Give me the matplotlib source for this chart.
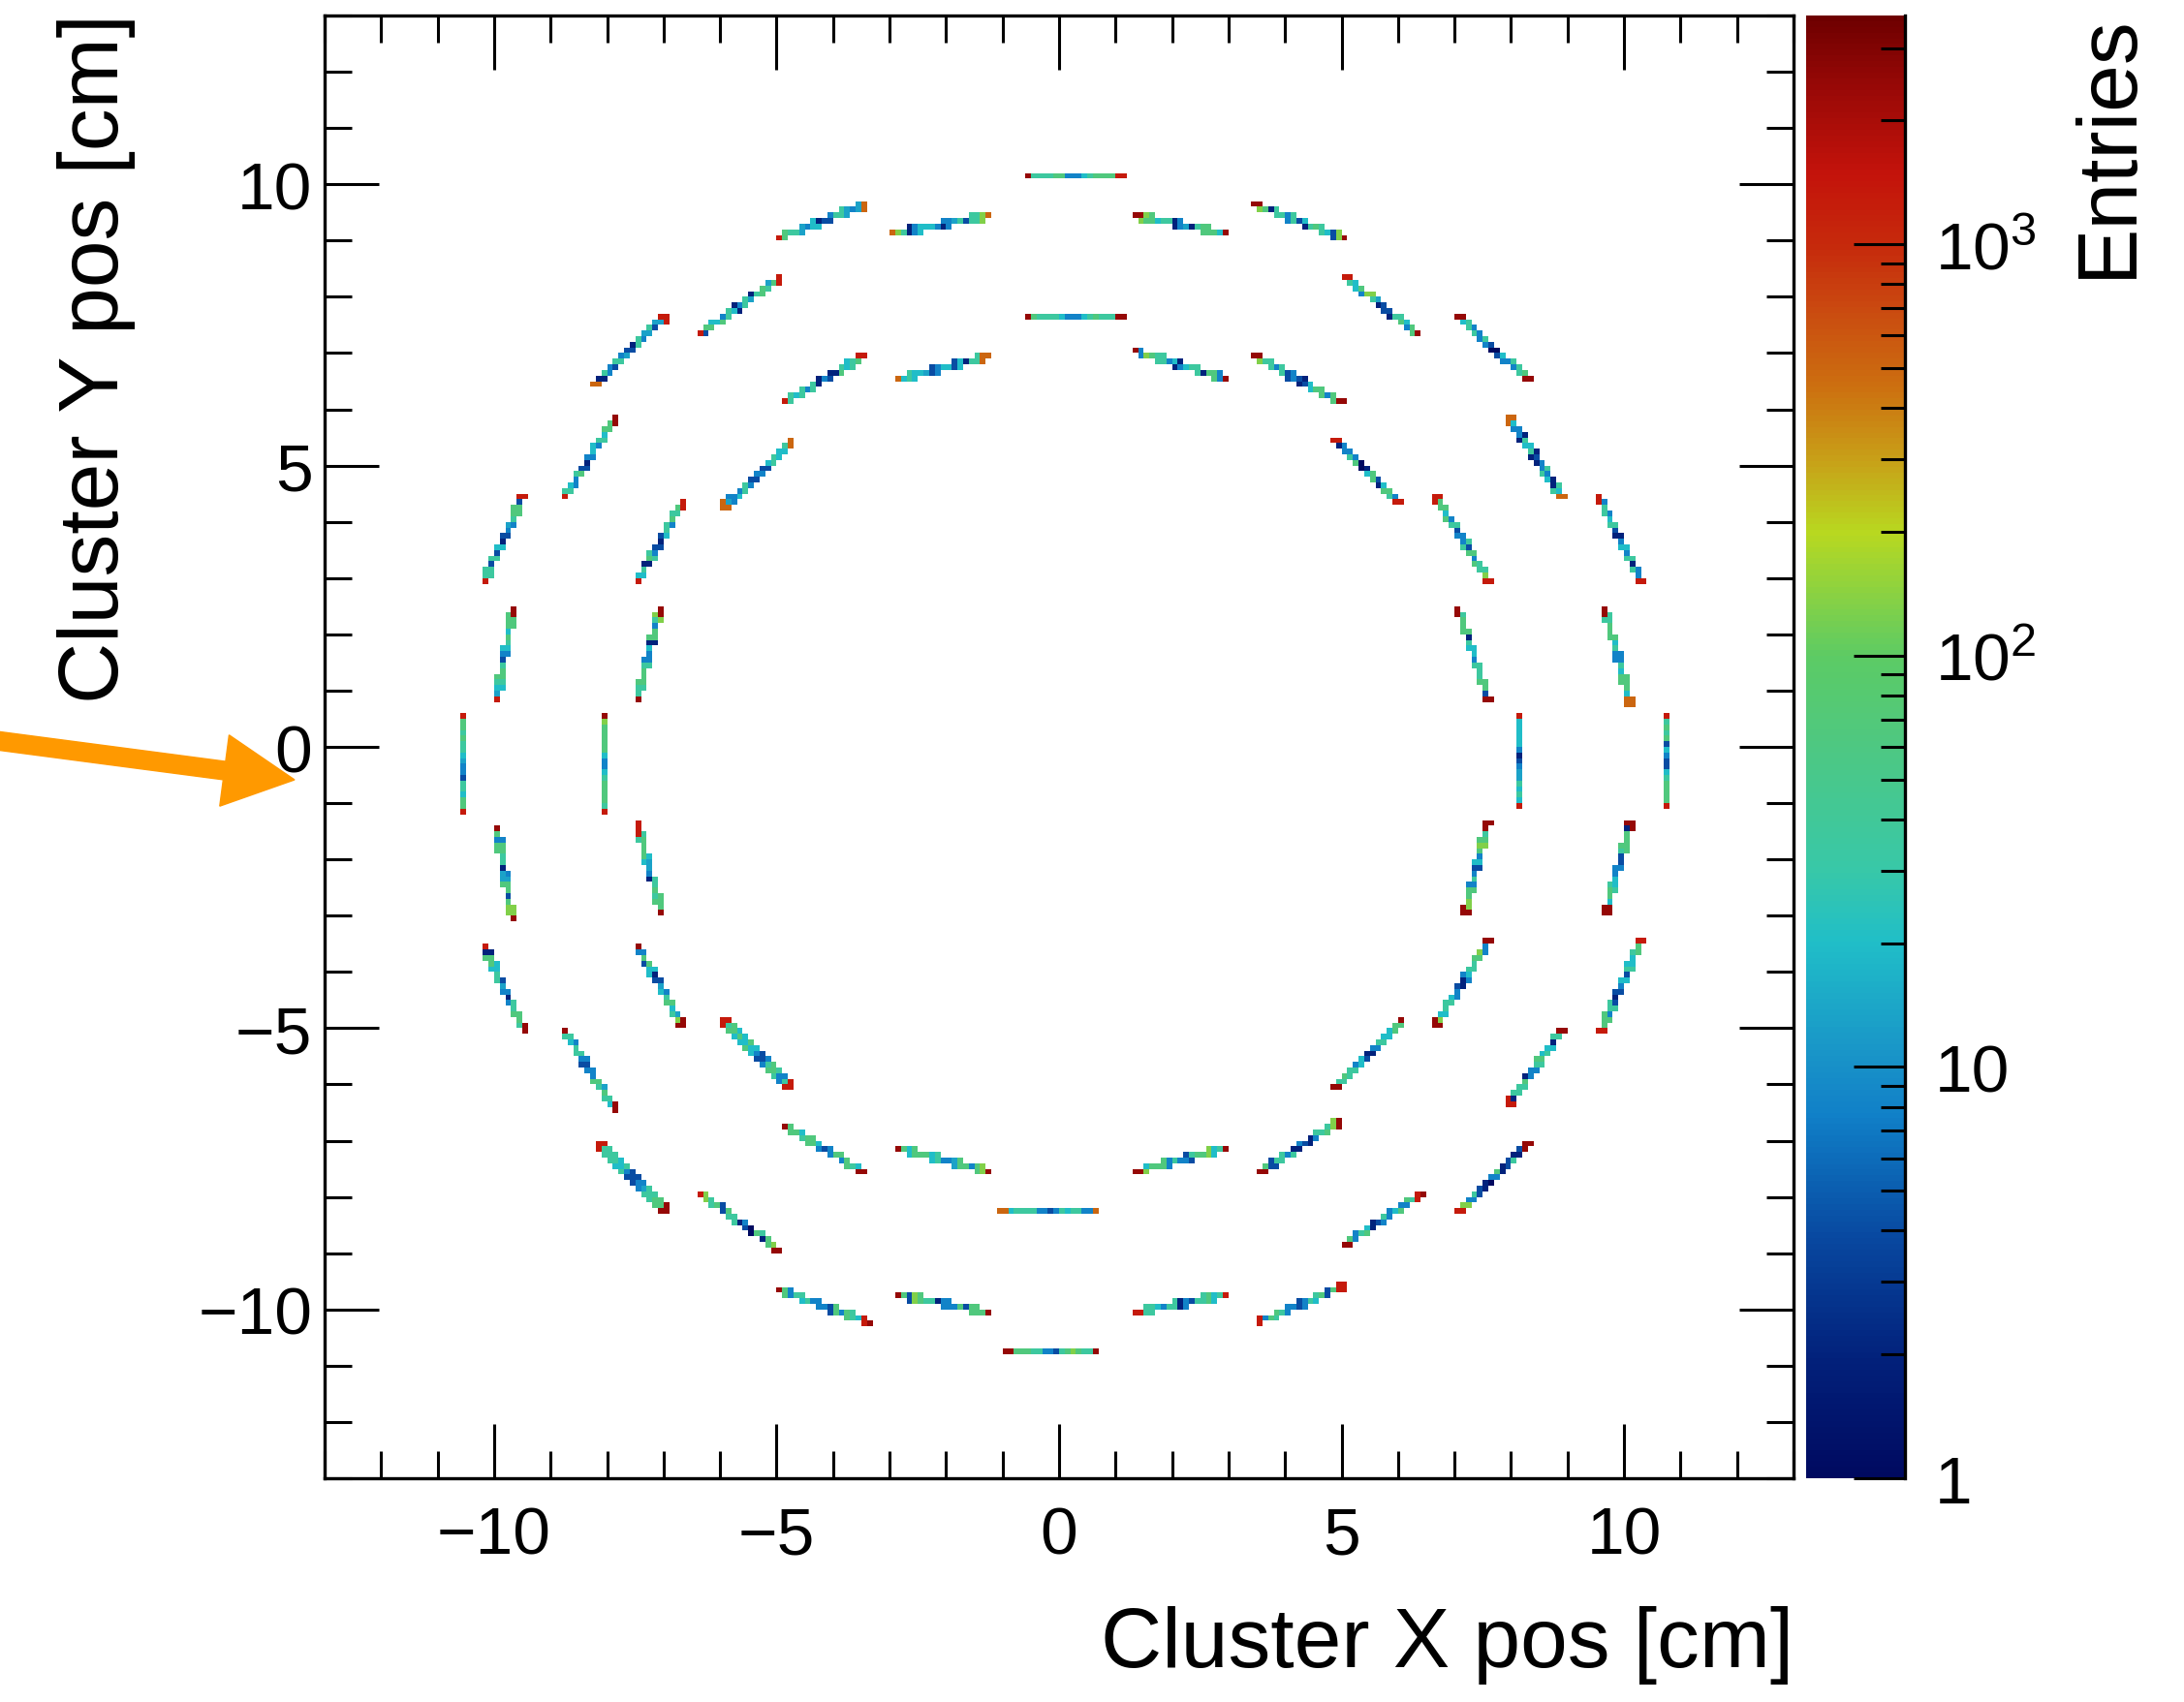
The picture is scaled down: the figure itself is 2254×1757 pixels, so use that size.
import numpy as np
import matplotlib
matplotlib.use("Agg")
import matplotlib.pyplot as plt
from matplotlib.colors import LinearSegmentedColormap, LogNorm
from matplotlib.patches import FancyArrow
from matplotlib.ticker import MultipleLocator, FixedLocator, NullFormatter
from matplotlib.transforms import IdentityTransform

plt.rcParams["font.family"] = ["Liberation Sans", "DejaVu Sans"]

# colour code letters used below -> entries in a bin
code_values = {"k": 1, "n": 2, "d": 4, "b": 8, "c": 13, "a": 20, "t": 35,
               "g": 65, "l": 130, "o": 500, "r": 1300, "R": 2500}

# outer ring ladders: start / end point [cm] and bin contents along the ladder
outer_x0 = [-0.59, 1.36, 3.45, 5.08, 7.07, 7.97, 9.56, 9.67, 10.73, 9.69, 9.60,
            7.97, 7.07, 5.07, 3.49, 1.36, -0.95, -2.86, -4.97, -6.36, -8.17,
            -8.76, -10.17, -9.96, -10.57, -9.95, -10.17, -8.76, -8.19, -6.38,
            -5.00, -2.98]
outer_y0 = [10.13, 9.44, 9.64, 8.34, 7.64, 5.85, 4.45, 2.45, 0.56, -2.94, -5.04,
            -6.34, -8.24, -8.84, -10.24, -10.05, -10.74, -9.74, -9.64, -7.93,
            -7.03, -5.04, -3.54, -1.44, -1.17, 0.85, 2.94, 4.43, 6.43, 7.32,
            9.04, 9.13]
outer_x1 = [1.12, 2.98, 5.08, 6.38, 8.30, 8.91, 10.29, 10.11, 10.73, 10.11, 10.30,
            8.90, 8.30, 6.45, 5.08, 2.98, 0.67, -1.24, -3.34, -4.95, -6.96,
            -7.86, -9.47, -9.67, -10.57, -9.67, -9.49, -7.86, -6.96, -4.93,
            -3.41, -1.21]
outer_y1 = [10.13, 9.13, 9.04, 7.32, 6.54, 4.43, 2.94, 0.77, -1.06, -1.35, -3.45,
            -5.04, -7.04, -7.93, -9.56, -9.74, -10.74, -10.05, -10.24, -8.94,
            -8.24, -6.45, -5.05, -3.06, 0.56, 2.45, 4.44, 5.84, 7.64, 8.34,
            9.64, 9.44]
outer_codes = ["Rttttgbbbatggggr", "RlggattnbcntgggaR", "RlgnttbtdantgtadlR",
               "rtagbltcnddntgabgR", "RatbtbtbdkdabtbtgR", "oabbntatndnbtbantao",
               "rbtbatdnbabtntbr", "Rtgggatbbtagggao", "rtgtgdabdatggggr",
               "RaggtabbbdtgggnR", "rggbtdndbadtaatgr", "rnttgnbbtgatantR",
               "rlbtdnkbgndtndR", "RgbtgandbtbagbgtrR", "rbgtgtbbdbtatgdgrr",
               "rttabttnbdttgatr", "RgggttbbdtglgttR", "RgdlgttnbbbgdgggR",
               "RgbttatbbbdggbgtarR", "rlttgdgttnbdkgtnglR", "rttttatbddbcttggR",
               "RtabttbdbbbgtcgtaR", "rnggaatdcbnbttggtR", "RgbggttncbcggdgllR",
               "rggattdbbcatgtggr", "rcatggtdbatgagggR", "rttdttdandbcbtggdr",
               "rtabtgdnbaabtaggR", "ontbdtbcdntbctdcr", "rdgaagbtanbtcntgtcgr",
               "rgttcbaandbttcbco", "oltnbaaabnbbctdttlo"]

# inner ring ladders
inner_x0 = [-0.59, 1.32, 3.45, 4.86, 6.67, 7.07, 8.17, 7.18, 6.67, 4.88, 3.56,
            1.36, -1.06, -2.86, -4.86, -5.96, -7.46, -7.46, -8.06, -7.46, -7.46,
            -5.96, -4.86, -2.87]
inner_y0 = [7.63, 7.04, 6.94, 5.45, 4.45, 2.45, 0.56, -2.96, -4.95, -6.05, -7.55,
            -7.55, -8.24, -7.13, -6.74, -4.84, -3.54, -1.35, -1.17, 0.84, 2.94,
            4.24, 6.13, 6.54]
inner_x1 = [1.12, 2.98, 5.01, 6.02, 7.61, 7.61, 8.17, 7.60, 7.60, 6.09, 4.99,
            2.98, 0.67, -1.24, -3.45, -4.75, -6.67, -7.04, -8.06, -7.07, -6.67,
            -4.75, -3.45, -1.24]
inner_y1 = [7.63, 6.54, 6.13, 4.33, 2.94, 0.84, -1.06, -1.35, -3.45, -4.84, -6.64,
            -7.13, -8.24, -7.55, -7.55, -6.05, -4.95, -2.96, 0.56, 2.45, 4.34,
            5.44, 6.94, 6.94]
inner_codes = ["RgttttabbbatgtttR", "RblgtttbanbattngggbR", "RlttbttdbdndaggbggR",
               "rnbbtbgknagdnagtbr", "rggagbtdbbtdgbgttlr", "RtgggnttaabtgttggdR",
               "raaaaabndbcctatar", "RlggbtbdabglgtR", "RlattabdnbattglbR",
               "RtgttbadnbbtaaggR", "RgdttbtnbdnbtgtlR", "RlagggbtbbdtgglatR",
               "ooatttgtbbdbtatttbbo", "RgagggatcbbcggbglR", "RggatggabdbggbgtaR",
               "rtgagagabdbtgtbtr", "RbgdgaandcabtgatclR", "rrtgggacbntgtggR",
               "rtggggtabbagggglR", "RttgggtbbanggbtlR",
               "ratngtbdndatbgtgr", "ocbabtbdbbdataato", "rtatbttnbdngtatgr",
               "oataacdbbaadanttoo"]

# colour palette of the z axis (value, colour)
pal_values = [1, 1.9, 3.8, 7.6, 10, 20, 30, 60, 100, 200, 300, 450, 700, 1000,
              1500, 2500, 3600]
pal_colors = ["#000a60", "#02207a", "#0848a0", "#1080c8", "#1890c8", "#20bec8",
              "#38c8a8", "#4ec882", "#5ccb64", "#b8d820", "#c8a018", "#cc7010",
              "#ca4a10", "#c62a0c", "#c4130b", "#960806", "#6e0000"]
zmax = 3600

bin_edges = np.arange(-13, 13.0001, 0.1)
centers = 0.5 * (bin_edges[:-1] + bin_edges[1:])
cx, cy = np.meshgrid(centers, centers)
hist = np.zeros_like(cx)


def fill_ladder(x0, y0, x1, y1, code):
    vals = np.array([code_values[ch] for ch in code], dtype=float)
    dx, dy = x1 - x0, y1 - y0
    norm2 = dx * dx + dy * dy
    t = ((cx - x0) * dx + (cy - y0) * dy) / norm2
    dist = np.abs((cx - x0) * dy - (cy - y0) * dx) / np.sqrt(norm2)
    sel = (dist < 0.072) & (t >= -0.02) & (t <= 1.02)
    idx = np.clip((t[sel] * len(vals)).astype(int), 0, len(vals) - 1)
    hist[sel] = vals[idx]


for lad in zip(outer_x0, outer_y0, outer_x1, outer_y1, outer_codes):
    fill_ladder(*lad)
for lad in zip(inner_x0, inner_y0, inner_x1, inner_y1, inner_codes):
    fill_ladder(*lad)

fpos = np.log10(pal_values) / np.log10(zmax)
fpos[0], fpos[-1] = 0.0, 1.0
cmap = LinearSegmentedColormap.from_list("entries", list(zip(fpos, pal_colors)))

fig = plt.figure(figsize=(22.54, 17.58), dpi=100)
ax = fig.add_axes([335 / 2254, 1 - 1527 / 1758, 1516 / 2254, 1510 / 1758])
cax = fig.add_axes([1864 / 2254, 1 - 1527 / 1758, 102 / 2254, 1510 / 1758])

mesh = ax.pcolormesh(bin_edges, bin_edges, np.ma.masked_equal(hist, 0),
                     cmap=cmap, norm=LogNorm(vmin=1, vmax=zmax),
                     shading="flat", edgecolors="none", antialiased=False)

ax.set_xlim(-13, 13)
ax.set_ylim(-13, 13)
ax.xaxis.set_major_locator(MultipleLocator(5))
ax.yaxis.set_major_locator(MultipleLocator(5))
ax.xaxis.set_minor_locator(MultipleLocator(1))
ax.yaxis.set_minor_locator(MultipleLocator(1))
ax.tick_params(which="both", direction="in", top=True, right=True, width=2.2,
               labelsize=50)
ax.tick_params(which="major", length=40)
ax.tick_params(which="minor", length=20)
ax.tick_params(axis="x", pad=20)
ax.tick_params(axis="y", pad=9)
for sp in ax.spines.values():
    sp.set_linewidth(2.4)

cbar = fig.colorbar(mesh, cax=cax)
cbar.outline.set_visible(False)
cax.plot([1, 1], [0, 1], transform=cax.transAxes, color="black", lw=2.4,
         clip_on=False)
cbar.set_ticks([1, 10, 100, 1000])
cbar.set_ticklabels(["1", "10", r"$\mathregular{10^{2}}$", r"$\mathregular{10^{3}}$"])
minor = [m * 10 ** e for e in range(4) for m in range(2, 10) if m * 10 ** e < zmax]
cax.yaxis.set_minor_locator(FixedLocator(minor))
cax.yaxis.set_minor_formatter(NullFormatter())
cax.tick_params(which="both", direction="in", right=True, left=False, width=2.2,
                labelsize=50, pad=22)
cax.tick_params(which="major", length=38)
cax.tick_params(which="minor", length=18)

fig.text(1851 / 2254, 1 - 1721 / 1758, "Cluster X pos [cm]", fontsize=63,
         ha="right", va="baseline")
fig.text(122 / 2254, 1 - 14 / 1758, "Cluster Y pos [cm]", fontsize=63,
         rotation=90, rotation_mode="anchor", ha="right", va="baseline")
fig.text(2199 / 2254, 1 - 14 / 1758, "Entries", fontsize=63,
         rotation=90, rotation_mode="anchor", ha="right", va="baseline")

# orange pointer at y = 0 on the left
arrow = FancyArrow(-20, 1758 - 763.4, 324, -42.6, width=19, head_width=74,
                   head_length=73, length_includes_head=True, color="#ff9900",
                   transform=IdentityTransform())
fig.add_artist(arrow)

fig.savefig("out.png", dpi=100)
